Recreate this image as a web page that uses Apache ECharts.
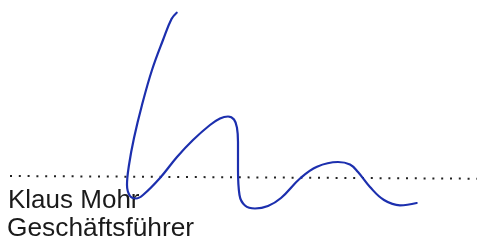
<!DOCTYPE html>
<html><head><meta charset="utf-8">
<script src="https://cdn.jsdelivr.net/npm/echarts@6/dist/echarts.min.js"></script>
<style>html,body{margin:0;padding:0;background:#fff}#c{width:477px;height:241px}</style>
</head><body><div id="c"></div>
<script>
// signature stroke (pixel-space estimates)
const sigX = [176.7,171.5,163,152,142,134,129,127,130,136,143,160,177,193,210,220,228,234,237,238,238,239.5,245,255,268,281,300,317,338,350,358,370,384,400,416.7];
const sigY = [12.7,19,40,70,105,138,165,185,196,198.5,195,178,157,140,125,118.5,116.5,119.5,128,142,170,195,205.5,208.5,206,198,178.5,166.7,162,164.5,172,187,200,205.3,203];
// dotted signature line
const lineX = [10, 477];
const lineY = [176, 178.7];
// texts
const nameText = 'Klaus Mohr';
const roleText = 'Geschäftsführer';

const chart = echarts.init(document.getElementById('c'), null, {renderer:'canvas'});
chart.setOption({
  animation:false,
  backgroundColor:'#ffffff',
  grid:{left:0,right:0,top:0,bottom:0},
  xAxis:{type:'value',min:0,max:477,show:false},
  yAxis:{type:'value',min:0,max:241,inverse:true,show:false},
  series:[
    {type:'line',data:lineX.map((x,i)=>[x,lineY[i]]),symbol:'none',
     lineStyle:{color:'#222',width:2,type:[2,6.8],cap:'butt'},z:1},
    {type:'line',data:sigX.map((x,i)=>[x,sigY[i]]),symbol:'none',smooth:0.4,
     lineStyle:{color:'#1c2fae',width:2.2,cap:'round',join:'round'},z:2}
  ],
  graphic:[
    {type:'text',left:8,top:188,style:{text:nameText,font:'26px "Liberation Sans", Arial, sans-serif',fill:'#1a1a1a'}},
    {type:'text',left:7,top:216,style:{text:roleText,font:'26.3px "Liberation Sans", Arial, sans-serif',fill:'#1a1a1a'}}
  ]
});
</script></body></html>
